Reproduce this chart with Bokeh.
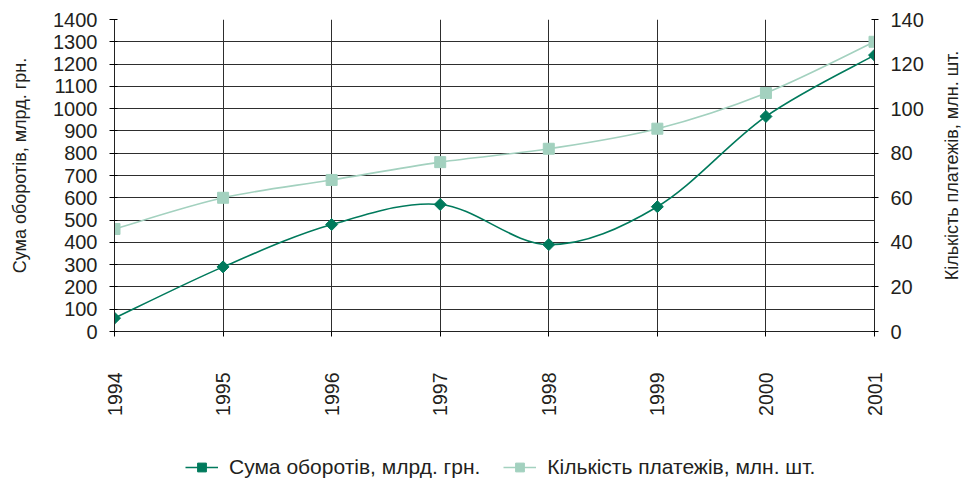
import math
from bokeh.plotting import figure
from bokeh.layouts import row, column
from bokeh.models import Range1d, LinearAxis, FixedTicker, Legend, LegendItem, ColumnDataSource, Title
from bokeh.embed import file_html
from bokeh.resources import INLINE

# ---- data ----
years = [1994, 1995, 1996, 1997, 1998, 1999, 2000, 2001]
turnover = [60, 290, 480, 570, 390, 560, 965, 1240]       # Сума оборотів, млрд. грн.
payments = [46, 60, 68, 76, 82, 91, 107, 130]              # Кількість платежів, млн. шт.
left_ticks = list(range(0, 1401, 100))
right_ticks = list(range(0, 141, 20))

label1 = "Сума оборотів, млрд. грн."
label2 = "Кількість платежів, млн. шт."

DARK = "#007a5c"
LIGHT = "#a3d1bf"
FONT = "Liberation Sans"
TXT = "#231f20"


def smooth_segments(xs, ys, t=1.0 / 6.0):
    seg = dict(x0=[], y0=[], x1=[], y1=[], cx0=[], cy0=[], cx1=[], cy1=[])
    n = len(xs)
    for i in range(n - 1):
        a = max(i - 1, 0)
        b = min(i + 2, n - 1)
        seg["x0"].append(xs[i]); seg["y0"].append(ys[i])
        seg["x1"].append(xs[i + 1]); seg["y1"].append(ys[i + 1])
        seg["cx0"].append(xs[i] + (xs[i + 1] - xs[a]) * t)
        seg["cy0"].append(ys[i] + (ys[i + 1] - ys[a]) * t)
        seg["cx1"].append(xs[i + 1] - (xs[b] - xs[i]) * t)
        seg["cy1"].append(ys[i + 1] - (ys[b] - ys[i]) * t)
    return ColumnDataSource(seg)


def blank(fig):
    fig.outline_line_color = None
    fig.grid.visible = False
    fig.background_fill_color = "white"
    fig.border_fill_color = "white"
    return fig


def title_strip(text, border_left, top, bottom):
    """Narrow figure holding only a vertical title that reads bottom-to-top."""
    f = figure(frame_width=1, frame_height=312,
               min_border_left=border_left, min_border_right=1,
               min_border_top=top, min_border_bottom=bottom,
               x_axis_location=None, y_axis_location=None,
               x_range=Range1d(0, 1), y_range=Range1d(0, 1),
               output_backend="svg", toolbar_location=None)
    blank(f)
    f.add_layout(Title(text=text, align="center", standoff=0, offset=0,
                       text_font=FONT, text_font_size="18px", text_font_style="normal",
                       text_color=TXT), "left")
    return f


p = figure(
    frame_width=760, frame_height=312,
    min_border_left=83, min_border_right=55, min_border_top=19, min_border_bottom=110,
    x_range=Range1d(years[0], years[-1]),
    y_range=Range1d(0, 1400),
    output_backend="svg", toolbar_location=None,
)
p.extra_y_ranges = {"cnt": Range1d(0, 140)}
p.outline_line_color = None
p.background_fill_color = "white"
p.border_fill_color = "white"

# grid
p.xgrid.ticker = FixedTicker(ticks=years)
p.ygrid.ticker = FixedTicker(ticks=left_ticks)
for g in (p.xgrid, p.ygrid):
    g.grid_line_color = "#2e2e2e"
    g.grid_line_width = 1

# x axis
xa = p.xaxis[0]
xa.ticker = FixedTicker(ticks=years)
xa.major_label_orientation = math.pi / 2
xa.major_tick_in = 0
xa.major_tick_out = 5
xa.minor_tick_line_color = None
xa.major_label_standoff = 36
xa.major_label_text_font = FONT
xa.major_label_text_font_size = "19.5px"
xa.major_label_text_color = TXT
xa.axis_line_color = "#222222"

# left axis
ya = p.yaxis[0]
ya.ticker = FixedTicker(ticks=left_ticks)
ya.major_tick_in = 3
ya.major_tick_out = 5
ya.minor_tick_line_color = None
ya.major_label_standoff = 12
ya.major_label_text_font = FONT
ya.major_label_text_font_size = "20px"
ya.major_label_text_color = TXT
ya.axis_line_color = "#222222"

# right axis
ra = LinearAxis(y_range_name="cnt", ticker=FixedTicker(ticks=right_ticks))
ra.major_tick_in = 3
ra.major_tick_out = 4
ra.minor_tick_line_color = None
ra.major_label_standoff = 12
ra.major_label_text_font = FONT
ra.major_label_text_font_size = "20px"
ra.major_label_text_color = TXT
ra.axis_line_color = "#222222"
p.add_layout(ra, "right")

# series 2 (light, right axis)
s2 = smooth_segments(years, payments)
p.bezier(x0="x0", y0="y0", x1="x1", y1="y1", cx0="cx0", cy0="cy0", cx1="cx1", cy1="cy1",
         source=s2, line_color=LIGHT, line_width=1.6, y_range_name="cnt")
p.scatter(years, payments, marker="square", size=11, fill_color=LIGHT, line_color=LIGHT,
          y_range_name="cnt")

# series 1 (dark, left axis)
s1 = smooth_segments(years, turnover)
p.bezier(x0="x0", y0="y0", x1="x1", y1="y1", cx0="cx0", cy0="cy0", cx1="cx1", cy1="cy1",
         source=s1, line_color=DARK, line_width=1.6)
p.scatter(years, turnover, marker="square", angle=math.pi / 4, size=8.5,
          fill_color=DARK, line_color=DARK)

# legend strip below the chart; its renderers hold the series but lie outside its view
lg = figure(width=898, height=38, min_border=0,
            x_axis_location=None, y_axis_location=None,
            x_range=Range1d(0, 1), y_range=Range1d(0, 1),
            output_backend="svg", toolbar_location=None)
blank(lg)
l1 = lg.line(years, turnover, line_color=DARK, line_width=1.6)
k1 = lg.scatter(years, turnover, marker="square", angle=math.pi / 4, size=8.5,
                fill_color=DARK, line_color=DARK)
l2 = lg.line(years, payments, line_color=LIGHT, line_width=1.6)
k2 = lg.scatter(years, payments, marker="square", size=11, fill_color=LIGHT, line_color=LIGHT)
legend = Legend(
    items=[LegendItem(label=label1, renderers=[l1, k1]),
           LegendItem(label=label2, renderers=[l2, k2])],
    orientation="horizontal",
    location=(71, 0),
    padding=0, margin=0, spacing=23,
    glyph_width=33, glyph_height=22, label_height=22, label_standoff=11,
    label_text_font=FONT, label_text_font_size="21px", label_text_color=TXT,
    border_line_color=None, background_fill_alpha=0,
)
lg.add_layout(legend, "center")

left_strip = title_strip(label1, 29, 9, 158)
right_strip = title_strip(label2, 32, 4, 163)

layout = row(left_strip, column(p, lg), right_strip)
open("out.html", "w").write(file_html(layout, INLINE))
